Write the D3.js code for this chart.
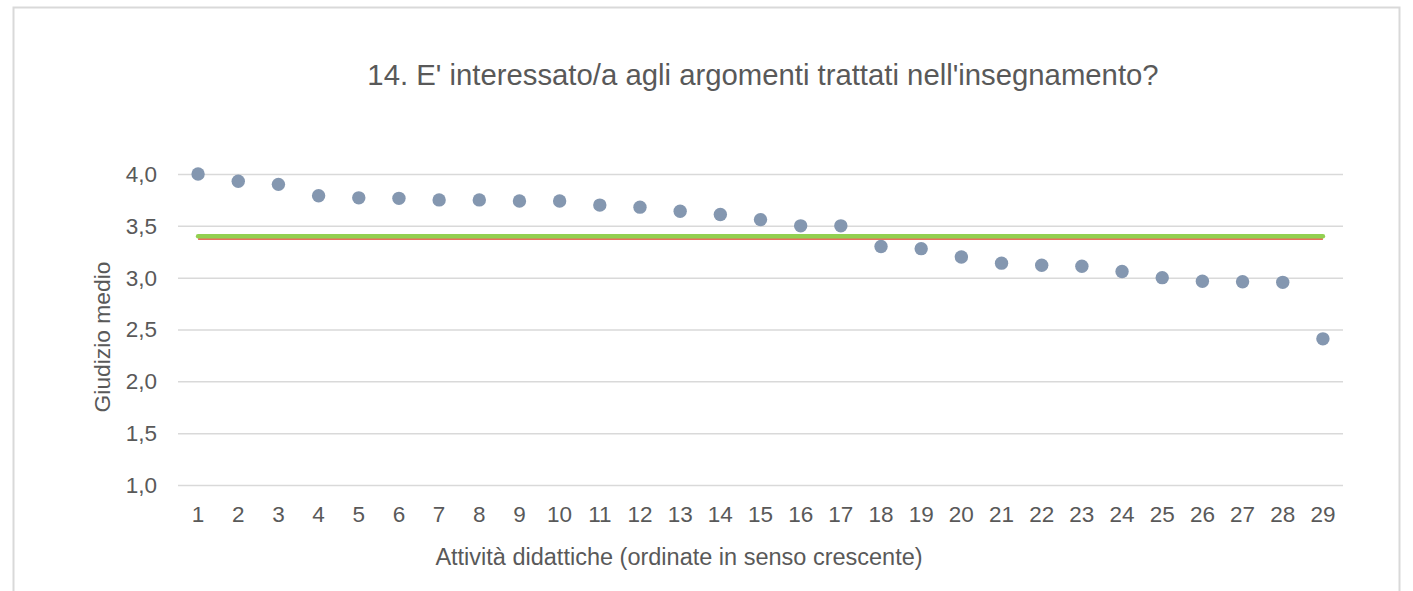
<!DOCTYPE html>
<html>
<head>
<meta charset="utf-8">
<script src="https://cdn.jsdelivr.net/npm/d3@7"></script>
<style>
  body { margin: 0; background: #fff; }
  svg text { font-family: "Liberation Sans", Arial, sans-serif; fill: #595959; }
  .grid line { stroke: #d9d9d9; stroke-width: 1.5; }
  .grid .domain { display: none; }
</style>
</head>
<body>
<div id="chart"></div>
<script>
// categories: activities sorted
const categories = d3.range(1, 30);
// average rating for each activity
const ratings = [4.00, 3.93, 3.90, 3.79, 3.77, 3.765, 3.75, 3.75, 3.74, 3.74,
                 3.70, 3.68, 3.64, 3.61, 3.56, 3.50, 3.50, 3.30, 3.28, 3.20,
                 3.14, 3.12, 3.11, 3.06, 3.00, 2.965, 2.96, 2.955, 2.41];
const meanGreen = 3.40;  // reference line (green)
const meanRed = 3.373;   // reference line (red)
const yTicks = [1.0, 1.5, 2.0, 2.5, 3.0, 3.5, 4.0];

const title = "14. E' interessato/a agli argomenti trattati nell'insegnamento?";
const xTitle = "Attività didattiche (ordinate in senso crescente)";
const yTitle = "Giudizio medio";

const W = 1413, H = 591;
const margin = { top: 174, right: 70, bottom: 106, left: 178 };
const width = W - margin.left - margin.right;
const height = H - margin.top - margin.bottom;

const svg = d3.select("#chart").append("svg")
    .attr("width", W)
    .attr("height", H);

// outer frame
svg.append("rect")
    .attr("x", 13.5).attr("y", 7.5)
    .attr("width", 1386).attr("height", 620)
    .attr("fill", "none")
    .attr("stroke", "#d9d9d9")
    .attr("stroke-width", 2);

const g = svg.append("g")
    .attr("transform", "translate(" + margin.left + "," + margin.top + ")");

const x = d3.scalePoint()
    .domain(categories)
    .range([0, width])
    .padding(0.5);

const y = d3.scaleLinear()
    .domain([1, 4])
    .range([height, 0]);

// horizontal gridlines
g.append("g")
    .attr("class", "grid")
    .call(d3.axisLeft(y).tickValues(yTicks).tickSize(-width).tickFormat(""))
    .selectAll(".tick text").remove();

// y tick labels
g.selectAll(".ylab")
    .data(yTicks)
    .enter().append("text")
    .attr("class", "ylab")
    .attr("x", -21)
    .attr("y", d => y(d))
    .attr("dy", "0.35em")
    .attr("text-anchor", "end")
    .style("font-size", "22.5px")
    .text(d => d3.format(".1f")(d).replace(".", ","));

// x tick labels
g.selectAll(".xlab")
    .data(categories)
    .enter().append("text")
    .attr("class", "xlab")
    .attr("x", d => x(d))
    .attr("y", height + 37)
    .attr("text-anchor", "middle")
    .style("font-size", "22.5px")
    .text(d => d);

// reference lines
const first = categories[0], last = categories[categories.length - 1];
g.append("line")
    .attr("x1", x(first)).attr("x2", x(last))
    .attr("y1", y(meanRed)).attr("y2", y(meanRed))
    .attr("stroke", "#e0402a")
    .attr("stroke-width", 1.5);

g.append("line")
    .attr("x1", x(first)).attr("x2", x(last))
    .attr("y1", y(meanGreen)).attr("y2", y(meanGreen))
    .attr("stroke", "#92d050")
    .attr("stroke-width", 4.5)
    .attr("stroke-linecap", "round");

// points
g.selectAll(".dot")
    .data(ratings)
    .enter().append("circle")
    .attr("class", "dot")
    .attr("cx", (d, i) => x(categories[i]))
    .attr("cy", d => y(d))
    .attr("r", 6.7)
    .attr("fill", "#8497b0");

// titles
svg.append("text")
    .attr("x", 763).attr("y", 85)
    .attr("text-anchor", "middle")
    .style("font-size", "29.3px")
    .text(title);

svg.append("text")
    .attr("x", 679).attr("y", 565)
    .attr("text-anchor", "middle")
    .style("font-size", "23.5px")
    .text(xTitle);

svg.append("text")
    .attr("transform", "translate(110,337) rotate(-90)")
    .attr("text-anchor", "middle")
    .style("font-size", "22.8px")
    .text(yTitle);
</script>
</body>
</html>
